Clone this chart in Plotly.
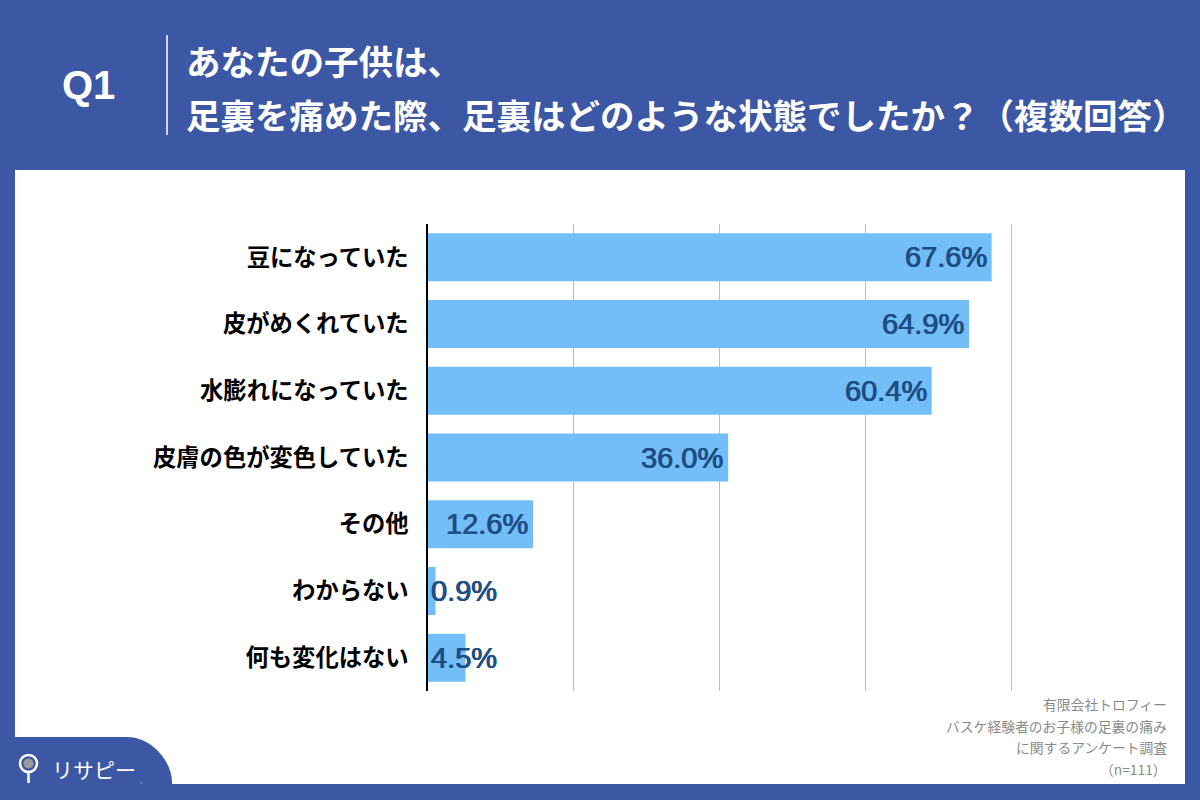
import plotly.graph_objects as go

categories = ["豆になっていた", "皮がめくれていた", "水膨れになっていた", "皮膚の色が変色していた",
              "その他", "わからない", "何も変化はない"]
values = [67.6, 64.9, 60.4, 36.0, 12.6, 0.9, 4.5]
value_labels = ["67.6%", "64.9%", "60.4%", "36.0%", "12.6%", "0.9%", "4.5%"]
title_lines = ["あなたの子供は、", "足裏を痛めた際、足裏はどのような状態でしたか？（複数回答）"]
source_lines = ["有限会社トロフィー", "バスケ経験者のお子様の足裏の痛み", "に関するアンケート調査", "（n=111）"]

BLUE = "#3C57A4"
BAR = "#73BEF8"
LABEL = "#1F4E85"
JP = "Noto Sans CJK JP"

W, H = 1200, 800
L, R, T, B = 428, 1020, 224, 691


def px(x):
    return (x - L) / (R - L)


def py(y):
    return (B - y) / (B - T)


fig = go.Figure()
fig.add_trace(go.Bar(
    x=values, y=categories, orientation="h",
    marker=dict(color=BAR, line=dict(width=0)),
    hoverinfo="skip",
))

val_font = dict(family="Liberation Sans, Arial", size=29, color=LABEL,
                shadow="0.45px 0 0 #1F4E85, -0.45px 0 0 #1F4E85")
annotations = []
for cat, v, lab in zip(categories, values, value_labels):
    if v >= 10:
        annotations.append(dict(x=v, y=cat, xref="x", yref="y", text=lab, showarrow=False,
                                xanchor="right", xshift=-3, font=val_font))
    else:
        annotations.append(dict(x=0, y=cat, xref="x", yref="y", text=lab, showarrow=False,
                                xanchor="left", xshift=1, font=val_font))

# header
annotations.append(dict(x=px(88), y=py(85), xref="paper", yref="paper", text="<b>Q1</b>",
                        showarrow=False, xanchor="center", yanchor="middle",
                        font=dict(family="Liberation Sans, Arial", size=40, color="white")))
annotations.append(dict(x=px(184), y=py(60), xref="paper", yref="paper", text="<b>" + title_lines[0] + "</b>",
                        showarrow=False, xanchor="left", yanchor="middle",
                        font=dict(family=JP, size=34.5, color="white")))
annotations.append(dict(x=px(184), y=py(114), xref="paper", yref="paper", text="<b>" + title_lines[1] + "</b>",
                        showarrow=False, xanchor="left", yanchor="middle",
                        font=dict(family=JP, size=34.5, color="white")))

# source
for i, s in enumerate(source_lines):
    annotations.append(dict(x=px(1169), y=py(704 + i * 21.7), xref="paper", yref="paper", text=s,
                            showarrow=False, xanchor="right", yanchor="middle",
                            font=dict(family=JP, size=13.8, color="#8A8A8A")))

# logo text
annotations.append(dict(x=px(50), y=py(769), xref="paper", yref="paper", text="リサピー",
                        showarrow=False, xanchor="left", yanchor="middle",
                        font=dict(family=JP, size=21, color="white")))
annotations.append(dict(x=px(141), y=py(783), xref="paper", yref="paper", text="®",
                        showarrow=False, xanchor="center", yanchor="middle",
                        font=dict(family=JP, size=5, color="#9AA4C8")))

shapes = []
# white panel
shapes.append(dict(type="rect", xref="paper", yref="paper", x0=px(15), x1=px(1185), y0=py(784), y1=py(170),
                   fillcolor="white", line=dict(width=0), layer="below"))
# vertical separator in header
shapes.append(dict(type="line", xref="paper", yref="paper", x0=px(167), x1=px(167), y0=py(35), y1=py(135),
                   line=dict(color="white", width=1.5)))
# logo tab with rounded top-right corner
x0, x1, yt, yb, r = 0, 172, 737, 800, 45
path = (f"M {px(x0)},{py(yb)} L {px(x0)},{py(yt)} L {px(x1 - r)},{py(yt)} "
        f"C {px(x1 - r * 0.45)},{py(yt)} {px(x1)},{py(yt + r * 0.55)} {px(x1)},{py(yt + r)} "
        f"L {px(x1)},{py(yb)} Z")
shapes.append(dict(type="path", xref="paper", yref="paper", path=path,
                   fillcolor=BLUE, line=dict(width=0), layer="above"))
# pin icon
shapes.append(dict(type="circle", xref="paper", yref="paper", x0=px(20), x1=px(37), y0=py(772), y1=py(755),
                   fillcolor="rgba(0,0,0,0)", line=dict(color="white", width=2.5), layer="above"))
shapes.append(dict(type="circle", xref="paper", yref="paper", x0=px(23.5), x1=px(33.5), y0=py(768.5), y1=py(758.5),
                   fillcolor="#9A9A9A", line=dict(width=0), layer="above"))
shapes.append(dict(type="line", xref="paper", yref="paper", x0=px(28.5), x1=px(28.5), y0=py(772), y1=py(783),
                   line=dict(color="white", width=2.5), layer="above"))

fig.update_layout(
    width=W, height=H,
    margin=dict(l=L, r=W - R, t=T, b=H - B, pad=0),
    paper_bgcolor=BLUE,
    plot_bgcolor="white",
    showlegend=False,
    bargap=0.28,
    annotations=annotations,
    shapes=shapes,
    xaxis=dict(range=[0, 71], dtick=17.5, tick0=0, showticklabels=False, showgrid=True,
               gridcolor="#BDBDBD", gridwidth=1, zeroline=False, showline=False, fixedrange=True),
    yaxis=dict(autorange="reversed", showline=True, linecolor="black", linewidth=1.5,
               ticks="", ticklabelstandoff=13, showgrid=False,
               tickfont=dict(family=JP, size=23.3, color="black", weight="bold"), fixedrange=True),
)

fig.write_html("out.html", config=dict(displayModeBar=False),
               post_script="document.body.style.margin='0';document.body.style.padding='0';document.body.style.overflow='hidden';")
